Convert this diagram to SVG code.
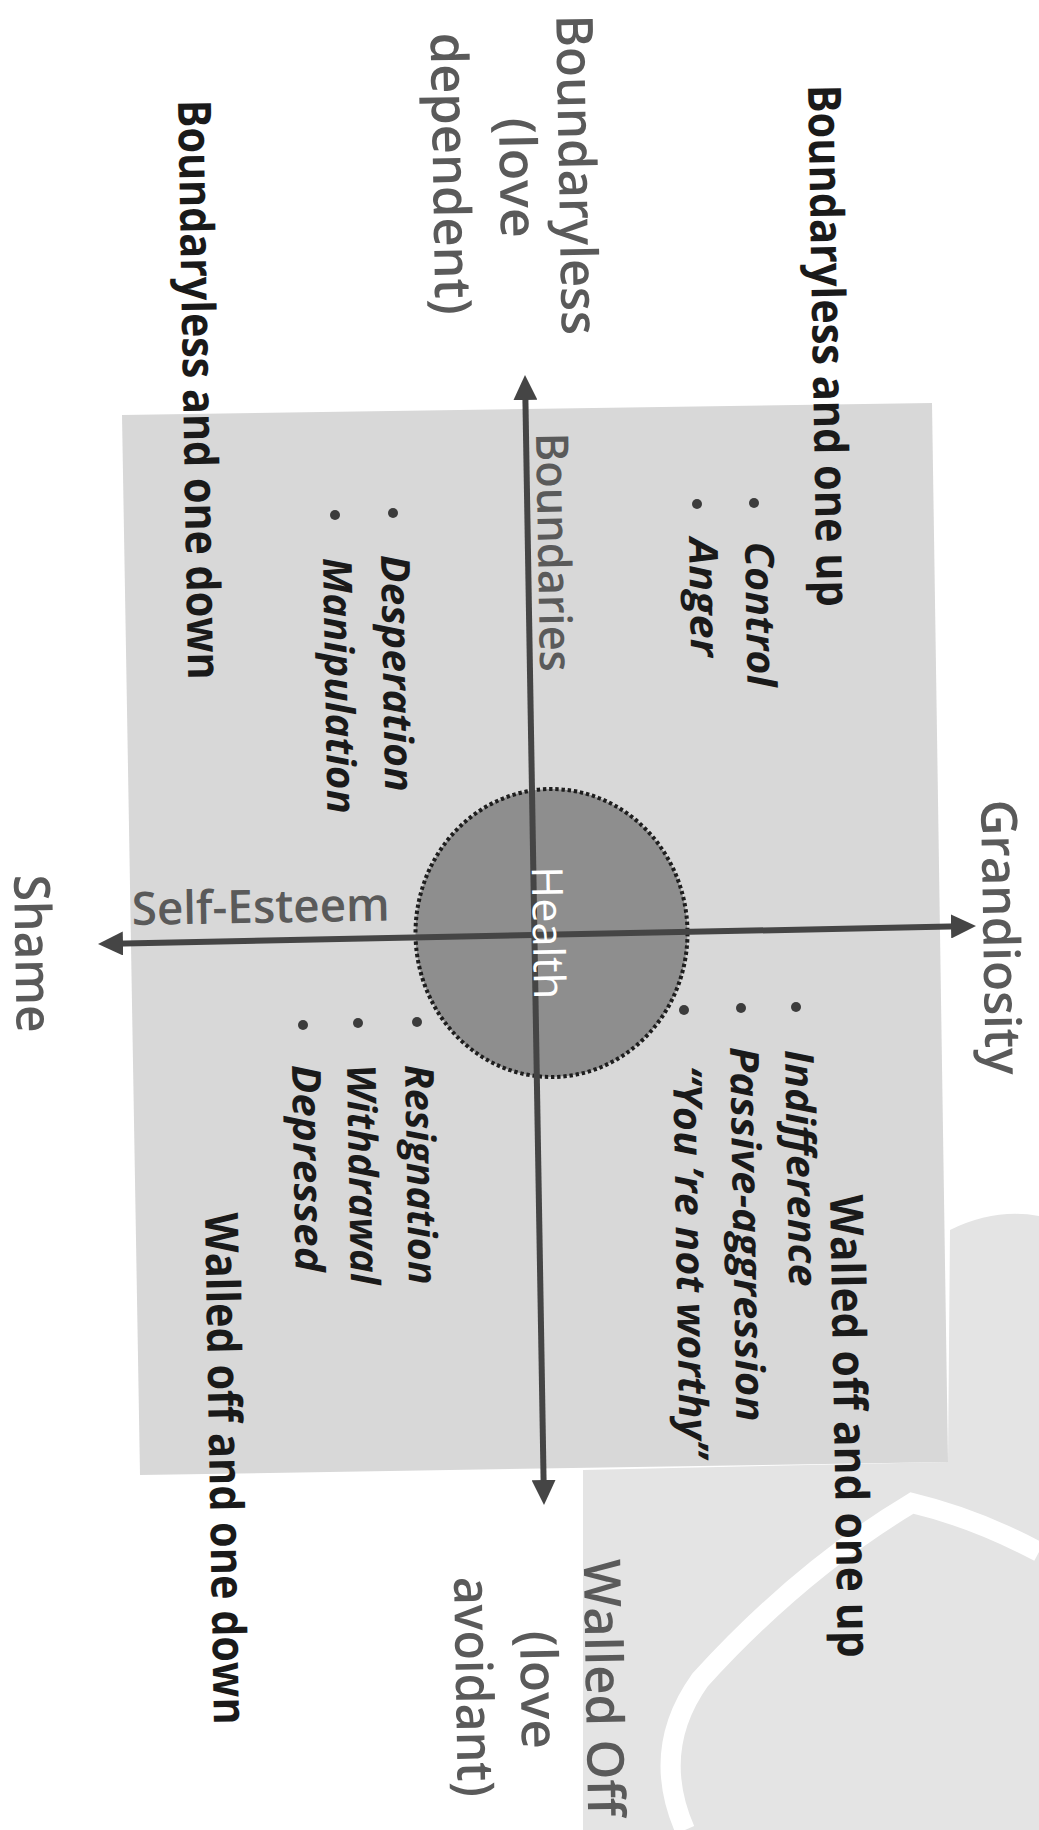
<svg xmlns="http://www.w3.org/2000/svg" width="1039" height="1830" viewBox="0 0 1039 1830">
  <defs>
    <marker id="arrow" viewBox="0 0 25 24" refX="10" refY="12" markerWidth="25" markerHeight="24" markerUnits="userSpaceOnUse" orient="auto-start-reverse">
      <path d="M0,0 L25,12 L0,24 Z" fill="#454545"/>
    </marker>
  </defs>
  <style>
    text { font-family: "Open Sans", "Noto Sans", "Liberation Sans", sans-serif; }
    .title { font-size: 46px; font-weight: 700; fill: #1a1a1a; }
    .item { font-size: 40px; font-weight: 700; font-style: italic; fill: #1a1a1a; }
    .label { font-size: 51px; font-weight: 600; fill: #5a5a5a; }
    .dot { fill: #3c3c3c; }
    .axis { stroke: #454545; stroke-width: 6; fill: none; }
  </style>

  <rect x="0" y="0" width="1039" height="1830" fill="#ffffff"/>

  <g id="background">
    <path d="M583 1470 L948 1462 L950 1230 Q995 1208 1039 1216 L1039 1830 L583 1830 Z" fill="#e4e4e4"/>
    <path d="M1039 1552 Q975 1518 912 1503 Q800 1570 700 1680 Q650 1750 685 1830" fill="none" stroke="#ffffff" stroke-width="20"/>
    <polygon id="plane" points="122,415 932,403 948,1462 140,1475" fill="#d8d8d8"/>
  </g>

  <g id="health">
    <ellipse cx="551.5" cy="933" rx="136" ry="144" fill="#8e8e8e" stroke="#1e1e1e" stroke-width="4" stroke-dasharray="3.4 2.8"/>
  </g>

  <g id="connectors">
    <line class="axis" x1="525.25" y1="390" x2="543.75" y2="1490" marker-start="url(#arrow)" marker-end="url(#arrow)"/>
    <line class="axis" x1="113" y1="943.7" x2="961" y2="926.3" marker-start="url(#arrow)" marker-end="url(#arrow)"/>
  </g>

  <g id="health-label">
    <text transform="translate(533,933) rotate(89)" text-anchor="middle" font-size="43" fill="#ffffff" textLength="133" lengthAdjust="spacingAndGlyphs">Health</text>
  </g>

  <g id="axis-labels">
    <text class="label" transform="translate(981,800) rotate(89)" style="font-size:50px" textLength="275" lengthAdjust="spacingAndGlyphs">Grandiosity</text>
    <text class="label" transform="translate(14,875) rotate(89)" style="font-size:50px" textLength="158" lengthAdjust="spacingAndGlyphs">Shame</text>
    <text class="label" transform="translate(536,433) rotate(89)" style="font-size:45px" textLength="239" lengthAdjust="spacingAndGlyphs">Boundaries</text>
    <text class="label" x="132" y="925" transform="rotate(-1 132 925)" style="font-size:46px" textLength="258" lengthAdjust="spacingAndGlyphs">Self-Esteem</text>
  </g>

  <g id="boundaryless-pole">
    <text class="label" transform="translate(559,175) rotate(89)" text-anchor="middle" textLength="320" lengthAdjust="spacingAndGlyphs">Boundaryless</text>
    <text class="label" transform="translate(500,178) rotate(89)" text-anchor="middle" textLength="120" lengthAdjust="spacingAndGlyphs">(love</text>
    <text class="label" transform="translate(433,174) rotate(89)" text-anchor="middle" textLength="282" lengthAdjust="spacingAndGlyphs">dependent)</text>
  </g>

  <g id="walled-off-pole">
    <text class="label" transform="translate(586,1688) rotate(89)" text-anchor="middle" textLength="257" lengthAdjust="spacingAndGlyphs">Walled Off</text>
    <text class="label" transform="translate(521,1690) rotate(89)" text-anchor="middle" textLength="118" lengthAdjust="spacingAndGlyphs">(love</text>
    <text class="label" transform="translate(456,1687) rotate(89)" text-anchor="middle" textLength="220" lengthAdjust="spacingAndGlyphs">avoidant)</text>
  </g>

  <g id="quadrant-boundaryless-up">
    <text class="title" transform="translate(808,85) rotate(89)" textLength="522" lengthAdjust="spacingAndGlyphs">Boundaryless and one up</text>
    <circle class="dot" cx="754" cy="503" r="5"/>
    <circle class="dot" cx="697" cy="504" r="5"/>
    <text class="item" transform="translate(745,542) rotate(89)" textLength="145" lengthAdjust="spacingAndGlyphs">Control</text>
    <text class="item" transform="translate(689,538) rotate(89)" textLength="119" lengthAdjust="spacingAndGlyphs">Anger</text>
  </g>

  <g id="quadrant-boundaryless-down">
    <text class="title" transform="translate(178,100) rotate(89)" textLength="580" lengthAdjust="spacingAndGlyphs">Boundaryless and one down</text>
    <circle class="dot" cx="393" cy="513" r="5"/>
    <circle class="dot" cx="335" cy="515" r="5"/>
    <text class="item" transform="translate(381,555) rotate(89)" textLength="237" lengthAdjust="spacingAndGlyphs">Desperation</text>
    <text class="item" transform="translate(323,558) rotate(89)" textLength="256" lengthAdjust="spacingAndGlyphs">Manipulation</text>
  </g>

  <g id="quadrant-walled-up">
    <text class="title" transform="translate(830,1195) rotate(89)" textLength="463" lengthAdjust="spacingAndGlyphs">Walled off and one up</text>
    <circle class="dot" cx="796" cy="1007" r="5"/>
    <circle class="dot" cx="741" cy="1008" r="5"/>
    <circle class="dot" cx="684" cy="1010" r="5"/>
    <text class="item" transform="translate(785,1050) rotate(89)" textLength="237" lengthAdjust="spacingAndGlyphs">Indifference</text>
    <text class="item" transform="translate(730,1047) rotate(89)" textLength="375" lengthAdjust="spacingAndGlyphs">Passive-aggression</text>
    <text class="item" transform="translate(673,1066) rotate(89)" textLength="392" lengthAdjust="spacingAndGlyphs">“You ’re not worthy”</text>
  </g>

  <g id="quadrant-walled-down">
    <text class="title" transform="translate(205,1213) rotate(89)" textLength="512" lengthAdjust="spacingAndGlyphs">Walled off and one down</text>
    <circle class="dot" cx="417" cy="1022" r="5"/>
    <circle class="dot" cx="358" cy="1023" r="5"/>
    <circle class="dot" cx="303" cy="1025" r="5"/>
    <text class="item" transform="translate(405,1065) rotate(89)" textLength="220" lengthAdjust="spacingAndGlyphs">Resignation</text>
    <text class="item" transform="translate(347,1065) rotate(89)" textLength="220" lengthAdjust="spacingAndGlyphs">Withdrawal</text>
    <text class="item" transform="translate(292,1065) rotate(89)" textLength="207" lengthAdjust="spacingAndGlyphs">Depressed</text>
  </g>
</svg>
